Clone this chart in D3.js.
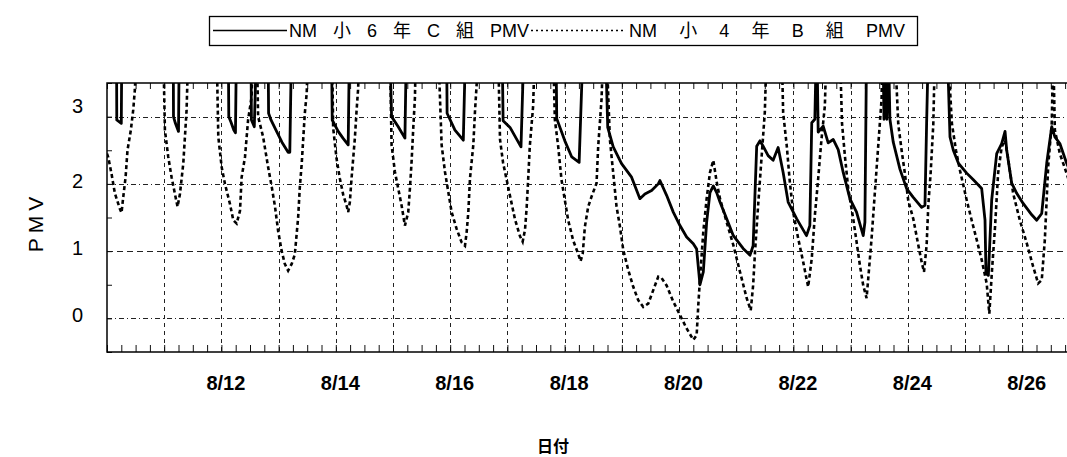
<!DOCTYPE html>
<html>
<head>
<meta charset="utf-8">
<script src="https://cdn.jsdelivr.net/npm/d3@7"></script>
<style>
  body { margin: 0; background: #fff; }
  svg { display: block; }
</style>
</head>
<body>
<svg id="chart" width="1067" height="457"></svg>
<script>
// PMV 推移 (8/10 0:00 からの経過時間 [h])
const T = 4.0 // 軸の上限 (3.5) を超える値

const hoursC = [0, 4.0, 4.1, 6.0, 6.2, 27.8, 27.9, 28.7, 30.0, 30.3, 50.9, 51.1, 52.0, 53.2, 53.9, 54.3,
  60.4, 60.6, 61.8, 62.7, 67.6, 67.8, 68.8, 70.9, 73.4, 76.0, 76.7, 77.4, 94.2, 94.5, 97.0, 99.0, 101.2, 101.7,
  118.7, 119.4, 122.2, 125.0, 125.6, 142.5, 142.7, 146.0, 149.5, 150.4, 165.8, 166.2, 169.1, 173.7, 174.9,
  188.4, 188.7, 192.1, 195.0, 198.1, 199.7, 209.2, 210.1, 212.4, 215.9, 220.1, 223.6, 225.7, 228.5, 231.3, 232.0,
  234.8, 237.6, 240.4, 243.2, 246.0, 247.4, 248.8, 250.2, 251.6, 253.0, 254.4, 255.8, 257.2, 260.0, 262.8, 266.9,
  269.8, 271.1, 272.6, 274.0, 275.3, 277.4, 279.5, 281.6, 283.7, 285.8, 289.4, 293.5, 294.9, 295.7, 297.0, 297.6,
  297.9, 298.4, 300.5, 302.6, 304.7, 306.8, 308.9, 311.7, 314.5, 317.3, 318.0, 318.7, 325.6, 326.0, 326.6, 327.2,
  327.9, 328.5, 329.9, 332.7, 335.5, 338.3, 341.8, 343.2, 343.9, 344.6, 352.6, 353.7, 355.1, 357.2, 360.7, 363.5,
  367.0, 368.4, 368.8, 369.8, 371.2, 373.3, 375.4, 376.8, 377.5, 379.6, 381.7, 384.4, 388.0, 390.1, 392.2, 394.3,
  396.4, 397.7, 399.8, 402.6, 404.0]
const pmvC = [T, T, 2.95, 2.9, T, T, 3.0, 2.9, 2.78, T, T, 3.0, 2.92, 2.8, 2.76, T,
  T, 2.95, 2.85, T, T, 3.05, 2.95, 2.8, 2.62, 2.47, 2.47, T, T, 2.95, 2.78, 2.68, 2.58, T,
  T, 3.0, 2.85, 2.68, T, T, 3.05, 2.8, 2.65, T, T, 2.94, 2.84, 2.55, T,
  T, 2.97, 2.64, 2.4, 2.32, T, T, 2.84, 2.55, 2.3, 2.1, 1.78, 1.85, 1.9, 2.0, 2.05,
  1.83, 1.58, 1.38, 1.21, 1.11, 1.03, 0.5, 0.69, 1.43, 1.87, 1.97, 1.87, 1.73, 1.48, 1.23, 1.04,
  0.94, 1.08, 2.56, 2.64, 2.56, 2.42, 2.35, 2.54, 2.17, 1.73, 1.48, 1.23, 1.38, 2.91, 2.96, T,
  T, 2.77, 2.86, 2.61, 2.66, 2.51, 2.17, 1.78, 1.58, 1.23, 1.43, T, T, 2.96, T, 2.96,
  T, 2.96, 2.62, 2.22, 1.93, 1.8, 1.65, 1.68, 2.91, T, T, 2.7, 2.5, 2.31, 2.16, 2.06,
  1.93, 1.46, 0.67, 0.64, 1.76, 2.45, 2.6, 2.78, 2.5, 2.01, 1.86, 1.71, 1.54, 1.46, 1.56, 2.31,
  2.85, 2.7, 2.6, 2.31, 2.2]

const hoursB = [0, 0.5, 1.9, 3.3, 5.4, 6.1, 6.8, 7.8, 8.6, 10.0, 11.0, 11.7, 12.4, 23.6, 24.3, 25.7, 27.1,
  28.5, 29.6, 30.6, 32.0, 32.7, 33.4, 34.1, 46.0, 46.7, 48.1, 49.5, 51.6, 53.0, 54.4, 55.8, 56.5, 57.9, 59.2,
  60.7, 61.2, 62.9, 63.4, 65.5, 67.6, 69.1, 70.5, 71.8, 73.3, 74.6, 76.0, 77.5, 78.8, 80.2, 80.9, 81.7, 82.3,
  83.0, 83.8, 84.3, 94.4, 94.9, 96.3, 97.7, 99.1, 100.5, 101.2, 101.9, 102.6, 103.3, 104.0, 104.7, 105.4, 105.7,
  118.7, 119.4, 120.8, 122.2, 123.6, 125.0, 126.4, 127.1, 127.8, 128.5, 129.2, 129.6, 139.0, 140.4, 141.8, 143.2,
  144.6, 146.7, 148.8, 150.2, 150.9, 151.6, 152.3, 153.7, 154.4, 155.1, 155.4, 164.1, 164.9, 166.2, 167.7, 169.1,
  171.2, 173.3, 174.4, 175.4, 176.1, 176.7, 177.4, 178.8, 179.5, 187.2, 187.9, 189.3, 190.7, 192.1, 193.5, 195.6,
  197.7, 198.7, 199.6, 200.5, 201.9, 203.3, 205.4, 206.1, 207.5, 208.2, 209.6, 211.0, 212.4, 213.8, 215.2, 216.6,
  218.7, 220.8, 222.9, 225.0, 227.1, 229.2, 231.3, 232.7, 234.8, 237.6, 240.4, 243.2, 246.0, 247.4, 248.1, 248.8,
  250.2, 251.6, 253.0, 254.4, 255.8, 257.2, 260.0, 262.8, 265.6, 268.4, 270.1, 271.1, 271.9, 273.2, 274.7, 276.0,
  276.8, 283.1, 283.7, 285.2, 286.5, 287.9, 290.0, 292.1, 293.5, 294.2, 295.7, 297.0, 298.4, 299.8, 301.2, 301.9,
  307.5, 308.4, 309.6, 311.0, 313.1, 314.5, 315.9, 317.3, 318.7, 319.4, 320.8, 322.2, 323.6, 325.0, 325.4, 330.6,
  332.0, 333.4, 334.8, 336.2, 338.3, 340.4, 341.8, 342.8, 343.9, 344.6, 345.6, 346.7, 347.4, 352.8, 354.5, 356.2,
  357.9, 360.7, 362.8, 364.9, 367.0, 369.1, 370.2, 371.3, 372.6, 373.9, 375.4, 376.8, 378.0, 380.2, 383.0, 385.9,
  388.6, 390.7, 392.2, 393.5, 394.9, 396.4, 397.0, 397.7, 399.8, 402.6, 404.0]
const pmvB = [2.45, 2.4, 2.15, 1.86, 1.63, 1.57, 1.8, 2.1, 2.5, 2.8, 3.1, 3.4, T, T, 2.8, 2.4, 2.1,
  1.85, 1.66, 1.85, 2.3, 2.7, 3.1, T, T, 2.7, 2.25, 2.0, 1.7, 1.46, 1.41, 1.6, 2.1, 2.4, 2.95,
  3.3, T, T, 3.0, 2.7, 2.25, 1.96, 1.66, 1.3, 1.0, 0.81, 0.71, 0.81, 0.95, 1.5, 1.95, 2.3, 2.65,
  3.05, 3.35, T, T, 2.83, 2.38, 2.08, 1.84, 1.68, 1.58, 1.73, 2.08, 2.38, 2.68, 3.08, 3.43, T,
  T, 2.58, 2.18, 1.93, 1.68, 1.38, 1.58, 1.93, 2.33, 2.83, 3.28, T, T, 2.58, 2.18, 1.88,
  1.58, 1.33, 1.13, 1.08, 1.28, 1.58, 2.08, 2.58, 3.08, 3.48, T, T, 2.66, 2.31, 2.06, 1.82,
  1.47, 1.22, 1.14, 1.32, 1.66, 2.06, 2.56, 3.16, T, T, 2.96, 2.56, 2.06, 1.76, 1.46, 1.16,
  0.96, 0.85, 0.96, 1.36, 1.66, 1.81, 2.01, 2.56, 3.26, T, T, 2.66, 2.16, 1.66, 1.37, 1.02,
  0.72, 0.47, 0.27, 0.17, 0.22, 0.42, 0.62, 0.6, 0.49, 0.25, 0.05, -0.15, -0.32, -0.25, 0.2, 0.59,
  1.29, 1.78, 2.17, 2.35, 2.03, 1.78, 1.43, 1.09, 0.69, 0.3, 0.12, 0.49, 0.99, 1.68, 2.42, 3.06,
  T, T, 3.06, 2.57, 2.03, 1.58, 1.19, 0.84, 0.59, 0.47, 0.89, 1.53, 2.08, 2.67, 3.16, T,
  T, 2.9, 2.42, 1.93, 1.48, 1.14, 0.79, 0.49, 0.3, 0.59, 1.19, 1.88, 2.57, 3.26, T, T,
  2.89, 2.5, 2.15, 1.75, 1.48, 1.09, 0.84, 0.69, 1.09, 1.68, 2.17, 2.89, T, T, 2.9, 2.5,
  2.2, 1.76, 1.46, 1.17, 0.87, 0.52, 0.07, 0.7, 1.36, 2.16, 2.55, 2.65, 2.4, 1.86, 1.46, 1.12,
  0.77, 0.52, 0.57, 1.17, 2.26, 2.9, T, 2.8, 2.45, 2.16, 2.0]

const seriesNames = ['NM 小 6 年 C 組 PMV', 'NM 小 4 年 B 組 PMV']
const yTickValues = [0, 1, 2, 3]
const labelDays = [12, 14, 16, 18, 20, 22, 24, 26]

const base = new Date(Date.UTC(2003, 7, 10))
const toDate = h => new Date(base.getTime() + h * 3600 * 1000)
const dayDate = d => new Date(Date.UTC(2003, 7, d))

const plotL = 107, plotT = 83, plotB = 352, dayPx = 57.2
const plotR = plotL + 17 * dayPx

const x = d3.scaleUtc().domain([base, d3.utcDay.offset(base, 17)]).range([plotL, plotR])
const y = d3.scaleLinear().domain([-0.5, 3.5]).range([plotB, plotT])

const svg = d3.select('#chart')
const font = "'Liberation Sans', Arial, sans-serif"

svg.append('defs').append('clipPath').attr('id', 'plot')
  .append('rect').attr('x', plotL).attr('y', plotT).attr('width', plotR - plotL).attr('height', plotB - plotT)

// Grid
const grid = svg.append('g').attr('stroke', '#222').attr('stroke-width', 1).attr('fill', 'none')
grid.selectAll('line.h')
  .data(yTickValues)
  .join('line')
  .attr('class', 'h')
  .attr('x1', plotL).attr('x2', plotR)
  .attr('y1', d => Math.round(y(d)) + 0.5).attr('y2', d => Math.round(y(d)) + 0.5)
  .attr('stroke-dasharray', d => d === 1 ? '6,4' : '5,3,1,3')

const dayLines = d3.utcDay.range(d3.utcDay.offset(base, 1), d3.utcDay.offset(base, 17))
grid.selectAll('line.v')
  .data(dayLines)
  .join('line')
  .attr('class', 'v')
  .attr('y1', plotT).attr('y2', plotB)
  .attr('x1', d => Math.round(x(d)) + 0.5).attr('x2', d => Math.round(x(d)) + 0.5)
  .attr('stroke-dasharray', '4,4')

// Minor ticks (6 h) bottom & top
const minorX = d3.utcHour.every(6).range(base, d3.utcDay.offset(base, 17))
svg.append('g').attr('transform', `translate(0,${plotB})`)
  .call(d3.axisBottom(x).tickValues(minorX).tickSize(-7).tickFormat(''))
  .call(g => g.select('.domain').remove())
  .call(g => g.selectAll('line').attr('stroke', '#111'))
svg.append('g').attr('transform', `translate(0,${plotT})`)
  .call(d3.axisTop(x).tickValues(minorX).tickSize(-6).tickFormat(''))
  .call(g => g.select('.domain').remove())
  .call(g => g.selectAll('line').attr('stroke', '#111'))

// Y minor ticks
svg.append('g').attr('transform', `translate(${plotL},0)`)
  .call(d3.axisLeft(y).tickValues(d3.range(-0.5, 3.51, 0.5)).tickSize(-5).tickFormat(''))
  .call(g => g.select('.domain').remove())
  .call(g => g.selectAll('line').attr('stroke', '#111'))

// Labels
svg.append('g').attr('transform', `translate(0,${plotB})`)
  .call(d3.axisBottom(x).tickValues(labelDays.map(dayDate)).tickSize(0).tickPadding(24)
    .tickFormat(d3.utcFormat('%-m/%-d')))
  .call(g => g.select('.domain').remove())
  .call(g => g.selectAll('text')
    .attr('dx', 4)
    .attr('font-family', font).attr('font-size', 20).attr('font-weight', 'bold').attr('fill', '#000'))

svg.append('g').attr('transform', `translate(${plotL},0)`)
  .call(d3.axisLeft(y).tickValues(yTickValues).tickSize(0).tickPadding(24).tickFormat(d3.format('d')))
  .call(g => g.select('.domain').remove())
  .call(g => g.selectAll('text')
    .attr('dy', '0.32em').attr('y', d => d === 3 ? -11 : -3)
    .attr('font-family', font).attr('font-size', 20).attr('fill', '#000'))

svg.append('text')
  .attr('transform', 'translate(43,222) rotate(-90)')
  .attr('text-anchor', 'middle')
  .attr('font-family', font).attr('font-size', 21).attr('letter-spacing', 5)
  .text('PMV')

svg.append('text')
  .attr('x', 553).attr('y', 452)
  .attr('text-anchor', 'middle')
  .attr('font-family', "'Noto Sans CJK JP', sans-serif").attr('font-size', 16).attr('font-weight', 'bold')
  .text('日付')

// Series
const lineGen = d3.line().x(d => x(toDate(d[0]))).y(d => y(d[1]))
const dataC = hoursC.map((h, i) => [h, pmvC[i]])
const dataB = hoursB.map((h, i) => [h, pmvB[i]])

const plot = svg.append('g').attr('clip-path', 'url(#plot)')
plot.append('path').datum(dataB)
  .attr('d', lineGen).attr('fill', 'none')
  .attr('stroke', '#000').attr('stroke-width', 2.6).attr('stroke-dasharray', '4,3')
plot.append('path').datum(dataC)
  .attr('d', lineGen).attr('fill', 'none')
  .attr('stroke', '#000').attr('stroke-width', 2.8).attr('stroke-linejoin', 'round')

// Plot frame
svg.append('rect')
  .attr('x', plotL).attr('y', plotT).attr('width', plotR - plotL).attr('height', plotB - plotT)
  .attr('fill', 'none').attr('stroke', '#000').attr('stroke-width', 1.5)

// Legend
const legendFont = "'Liberation Sans', 'Noto Sans CJK JP', sans-serif"
const lg = svg.append('g')
lg.append('rect').attr('x', 209.5).attr('y', 16.5).attr('width', 708).attr('height', 29)
  .attr('fill', '#fff').attr('stroke', '#000').attr('stroke-width', 1.3)

function legendText(tx, width, label) {
  const t = lg.append('text').attr('x', tx).attr('y', 37)
    .attr('font-family', legendFont).attr('font-size', 18)
    .text(label)
  const gaps = label.split(' ').length - 1
  const natural = t.node().getComputedTextLength()
  t.attr('word-spacing', Math.max(0, (width - natural) / gaps))
}

lg.append('line').attr('x1', 213).attr('x2', 287).attr('y1', 30.5).attr('y2', 30.5)
  .attr('stroke', '#000').attr('stroke-width', 1.6)
legendText(289, 240, seriesNames[0])
lg.append('line').attr('x1', 531).attr('x2', 626).attr('y1', 30.5).attr('y2', 30.5)
  .attr('stroke', '#000').attr('stroke-width', 1.6).attr('stroke-dasharray', '2,3')
legendText(629, 276, seriesNames[1])
</script>
</body>
</html>
